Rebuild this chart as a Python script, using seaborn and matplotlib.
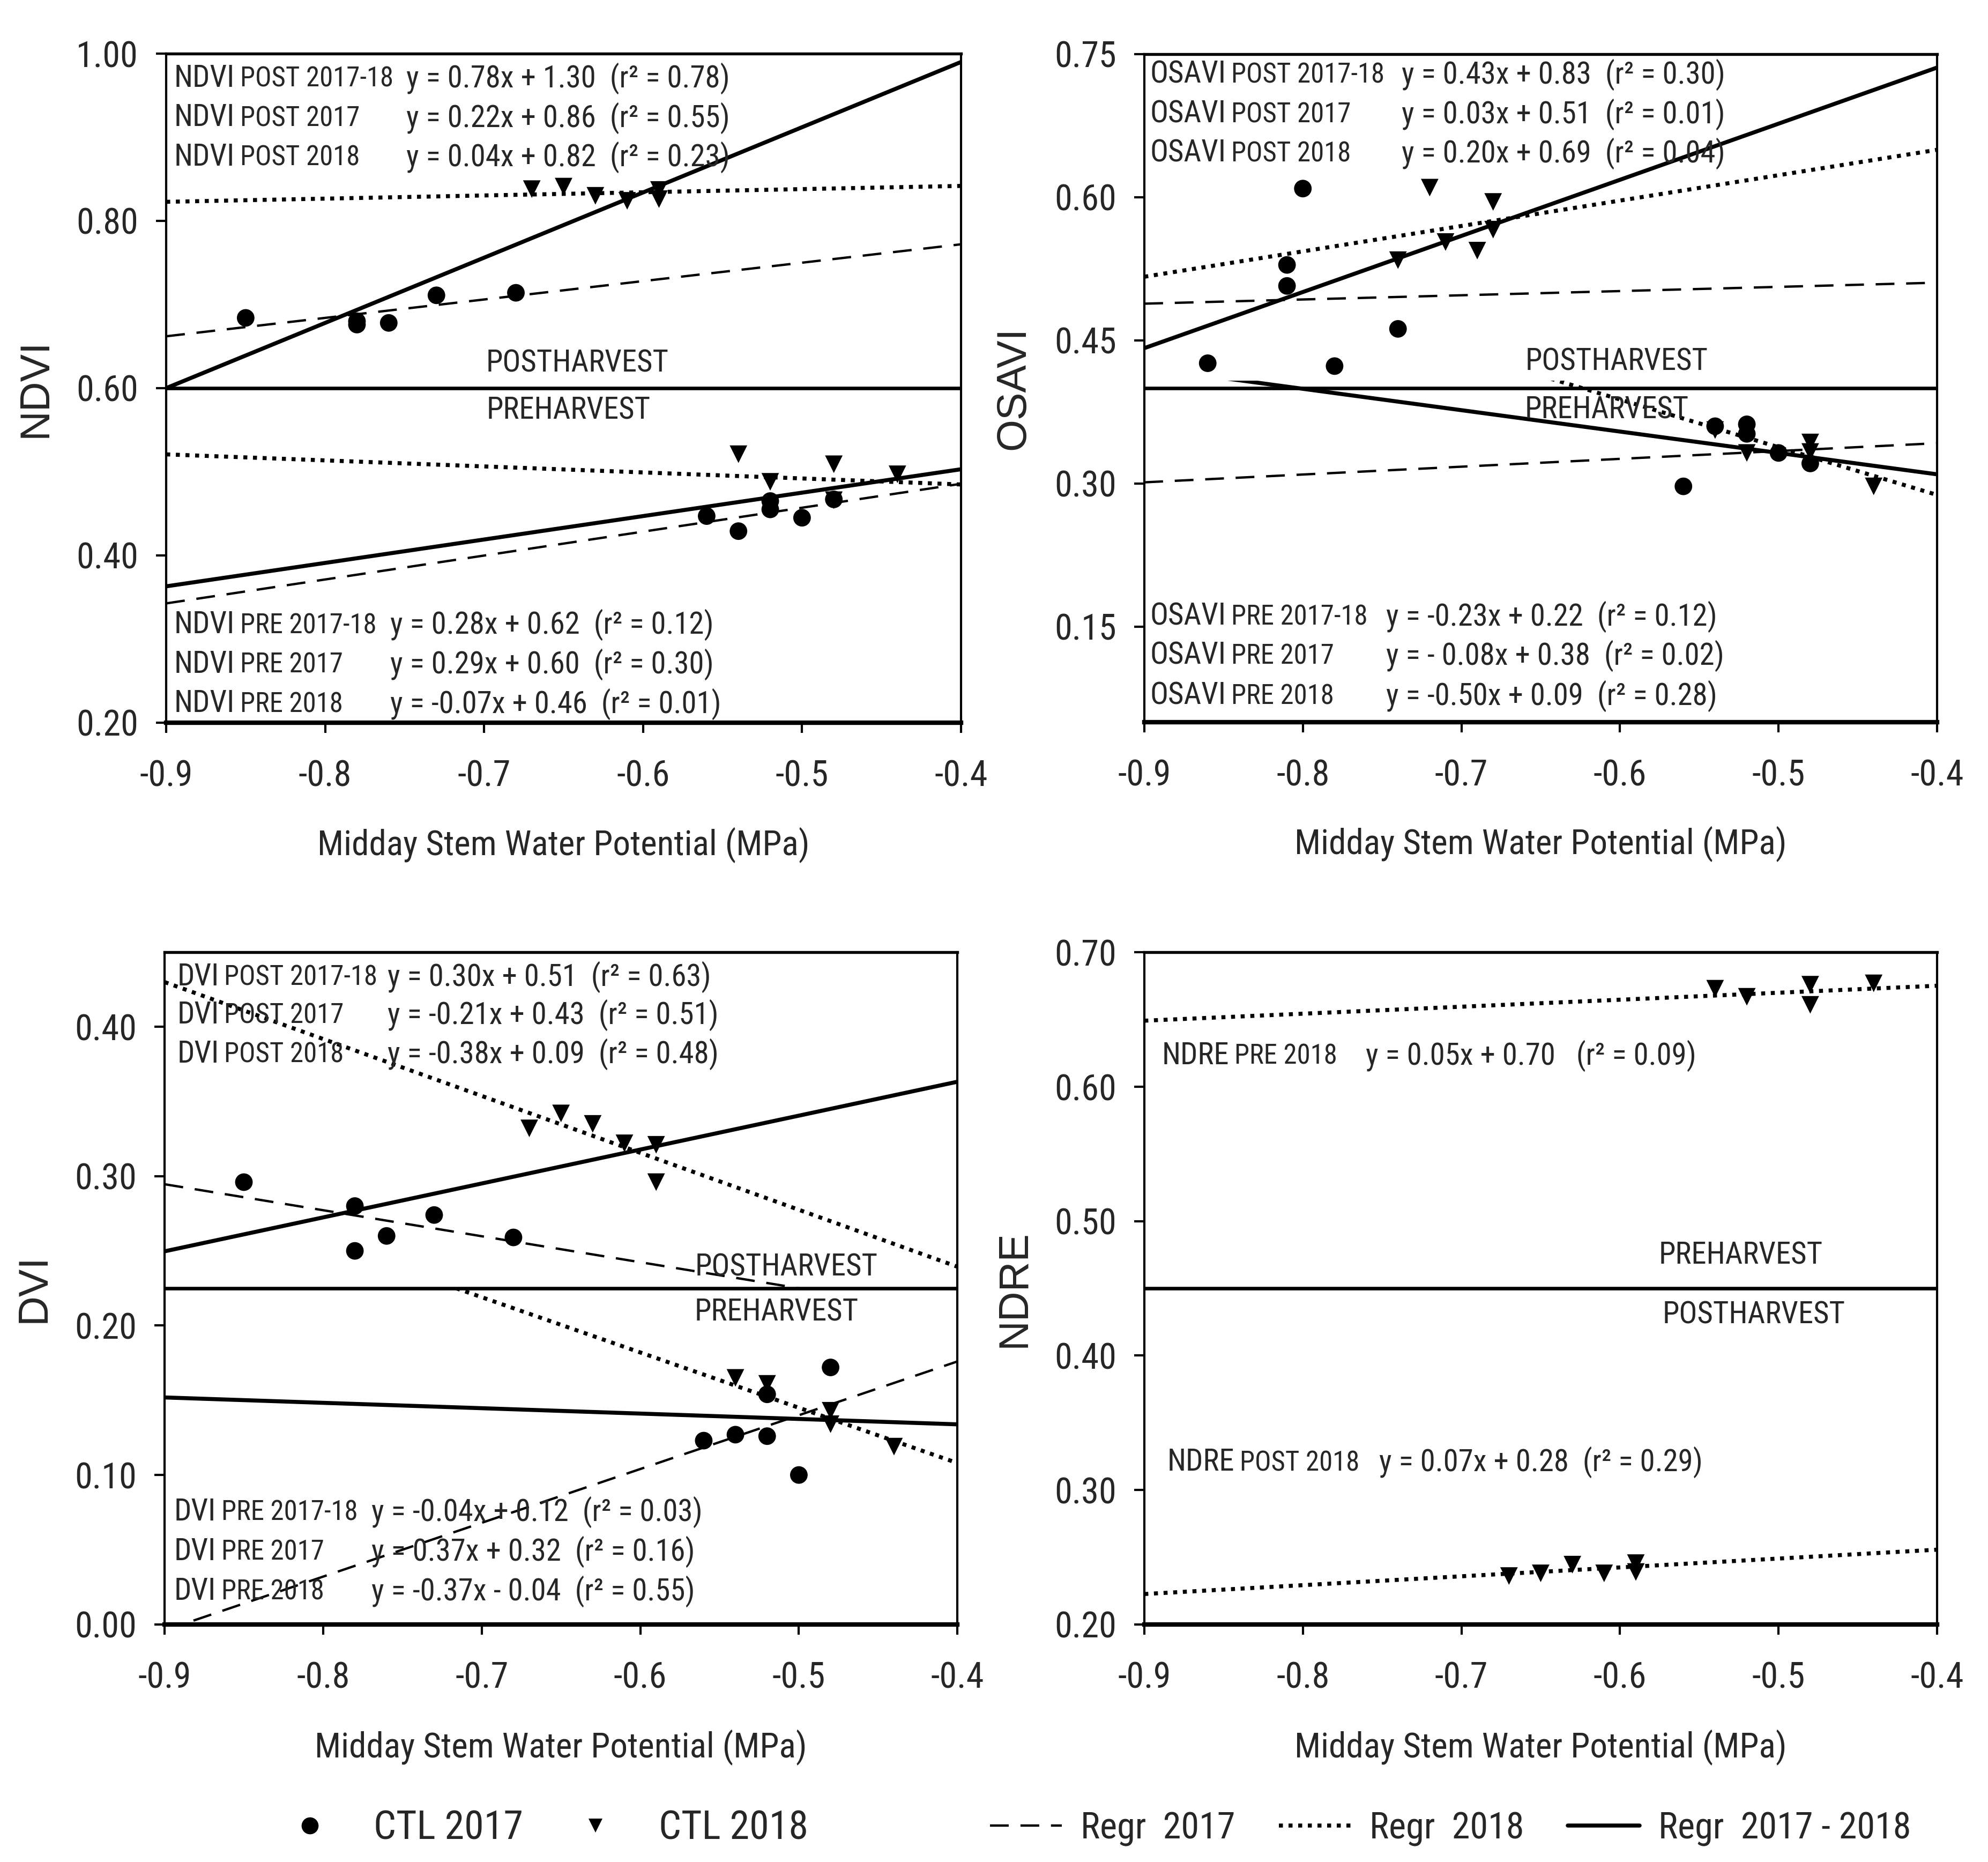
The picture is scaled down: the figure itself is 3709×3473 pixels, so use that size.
import numpy as np
import matplotlib
matplotlib.use('Agg')
import matplotlib.pyplot as plt
from matplotlib import font_manager as fm
from matplotlib.textpath import TextPath
from matplotlib.patches import Rectangle
from matplotlib.lines import Line2D
from matplotlib.ticker import FormatStrFormatter
import seaborn as sns

sns.set_style('ticks')

# the original uses a narrow face; take the narrowest one we have and shrink sizes to keep widths
available = {f.name for f in fm.fontManager.ttflist}
narrow = [c for c in ['Liberation Sans Narrow', 'Arial Narrow', 'Roboto Condensed',
                      'Open Sans Condensed', 'Liberation Sans'] if c in available][0]
plt.rcParams['font.family'] = [narrow, 'DejaVu Sans']
plt.rcParams['axes.unicode_minus'] = False
probe = TextPath((0, 0), 'Midday Stem Water Potential (MPa)', size=16.7,
                 prop=fm.FontProperties(family=narrow))
k = min(1.0, 218.4 / probe.get_extents().width)

# stem water potential of the sampled vines
x_post_2017 = [-0.85, -0.78, -0.78, -0.76, -0.73, -0.68]
x_post_2018 = [-0.67, -0.65, -0.63, -0.61, -0.59, -0.59]
x_pre_2017 = [-0.56, -0.54, -0.52, -0.52, -0.50, -0.48]
x_pre_2018 = [-0.54, -0.52, -0.48, -0.48, -0.44]
x_osavi_post_2017 = [-0.86, -0.81, -0.81, -0.80, -0.78, -0.74]
x_osavi_post_2018 = [-0.74, -0.72, -0.71, -0.69, -0.68, -0.68]

# NDVI
ndvi_post_2017 = [0.684, 0.680, 0.676, 0.678, 0.711, 0.714]
ndvi_post_2018 = [0.838, 0.841, 0.830, 0.824, 0.837, 0.826]
ndvi_pre_2017 = [0.447, 0.429, 0.465, 0.455, 0.445, 0.467]
ndvi_pre_2018 = [0.521, 0.488, 0.509, 0.466, 0.497]
# OSAVI
osavi_post_2017 = [0.426, 0.529, 0.507, 0.609, 0.423, 0.462]
osavi_post_2018 = [0.534, 0.610, 0.553, 0.544, 0.595, 0.566]
osavi_pre_2017 = [0.297, 0.360, 0.362, 0.352, 0.332, 0.321]
osavi_pre_2018 = [0.356, 0.332, 0.343, 0.333, 0.297]
# DVI
dvi_post_2017 = [0.296, 0.280, 0.250, 0.260, 0.274, 0.259]
dvi_post_2018 = [0.332, 0.342, 0.335, 0.322, 0.321, 0.296]
dvi_pre_2017 = [0.123, 0.127, 0.154, 0.126, 0.100, 0.172]
dvi_pre_2018 = [0.165, 0.161, 0.143, 0.134, 0.119]
# NDRE (2018 only)
ndre_pre_2018 = [0.673, 0.667, 0.676, 0.661, 0.677]
ndre_post_2018 = [0.236, 0.238, 0.2445, 0.238, 0.2456, 0.239]

# regression lines as drawn (slope, intercept)
ndvi_fits = {('post', 'all'): (0.78, 1.302), ('post', '2017'): (0.22, 0.860), ('post', '2018'): (0.038, 0.857),
             ('pre', 'all'): (0.28, 0.615), ('pre', '2017'): (0.286, 0.600), ('pre', '2018'): (-0.072, 0.456)}
osavi_fits = {('post', 'all'): (0.588, 0.971), ('post', '2017'): (0.044, 0.528), ('post', '2018'): (0.266, 0.756),
              ('pre', 'all'): (-0.224, 0.220), ('pre', '2017'): (0.082, 0.375), ('pre', '2018'): (-0.50, 0.088)}
dvi_fits = {('post', 'all'): (0.227, 0.454), ('post', '2017'): (-0.174, 0.138), ('post', '2018'): (-0.381, 0.087),
            ('pre', 'all'): (-0.036, 0.1195), ('pre', '2017'): (0.36, 0.32), ('pre', '2018'): (-0.37, -0.04)}
ndre_fits = {('pre', '2018'): (0.052, 0.696), ('post', '2018'): (0.066, 0.282)}

ndvi_eqs_post = [('NDVI', 'POST 2017-18', 'y = 0.78x + 1.30  (r\u00b2 = 0.78)'),
                 ('NDVI', 'POST 2017', 'y = 0.22x + 0.86  (r\u00b2 = 0.55)'),
                 ('NDVI', 'POST 2018', 'y = 0.04x + 0.82  (r\u00b2 = 0.23)')]
ndvi_eqs_pre = [('NDVI', 'PRE 2017-18', 'y = 0.28x + 0.62  (r\u00b2 = 0.12)'),
                ('NDVI', 'PRE 2017', 'y = 0.29x + 0.60  (r\u00b2 = 0.30)'),
                ('NDVI', 'PRE 2018', 'y = -0.07x + 0.46  (r\u00b2 = 0.01)')]
osavi_eqs_post = [('OSAVI', 'POST 2017-18', 'y = 0.43x + 0.83  (r\u00b2 = 0.30)'),
                  ('OSAVI', 'POST 2017', 'y = 0.03x + 0.51  (r\u00b2 = 0.01)'),
                  ('OSAVI', 'POST 2018', 'y = 0.20x + 0.69  (r\u00b2 = 0.04)')]
osavi_eqs_pre = [('OSAVI', 'PRE 2017-18', 'y = -0.23x + 0.22  (r\u00b2 = 0.12)'),
                 ('OSAVI', 'PRE 2017', 'y = - 0.08x + 0.38  (r\u00b2 = 0.02)'),
                 ('OSAVI', 'PRE 2018', 'y = -0.50x + 0.09  (r\u00b2 = 0.28)')]
dvi_eqs_post = [('DVI', 'POST 2017-18', 'y = 0.30x + 0.51  (r\u00b2 = 0.63)'),
                ('DVI', 'POST 2017', 'y = -0.21x + 0.43  (r\u00b2 = 0.51)'),
                ('DVI', 'POST 2018', 'y = -0.38x + 0.09  (r\u00b2 = 0.48)')]
dvi_eqs_pre = [('DVI', 'PRE 2017-18', 'y = -0.04x + 0.12  (r\u00b2 = 0.03)'),
               ('DVI', 'PRE 2017', 'y = 0.37x + 0.32  (r\u00b2 = 0.16)'),
               ('DVI', 'PRE 2018', 'y = -0.37x - 0.04  (r\u00b2 = 0.55)')]
ndre_eqs_pre = [('NDRE', 'PRE 2018', 'y = 0.05x + 0.70   (r\u00b2 = 0.09)')]
ndre_eqs_post = [('NDRE', 'POST 2018', 'y = 0.07x + 0.28  (r\u00b2 = 0.29)')]

line_style = {'2017': dict(ls=(0, (8, 5)), lw=1.05),
              '2018': dict(ls=(0, (1, 1.4)), lw=1.8),
              'all': dict(ls='-', lw=1.8)}

XMIN, XMAX = -0.9, -0.4
FS_TICK, FS_XLAB, FS_EQ, FS_TAG = 17 * k, 16.7 * k, 14.5 * k, 13 * k


def add_points(ax, x, y, marker):
    sns.scatterplot(x=x, y=y, marker=marker, s=62, color='black', edgecolor='none',
                    linewidth=0, ax=ax, zorder=4, legend=False)


def add_fits(ax, fits, ymin, ymax, div, post_on_top=True, pad=0.0):
    for (region, kind), (slope, icpt) in fits.items():
        upper = (region == 'post') == post_on_top
        lo, hi = (div - pad, ymax) if upper else (ymin, div + pad)
        xs = np.array([XMIN, XMAX])
        ln, = ax.plot(xs, slope * xs + icpt, color='black', solid_capstyle='butt', zorder=3,
                      **line_style[kind])
        ln.set_clip_path(Rectangle((XMIN, lo), XMAX - XMIN, hi - lo, transform=ax.transData))


def eq_rows(ax, rows, x0, xe, ys):
    for (name, tag, eq), y in zip(rows, ys):
        t = ax.text(x0, y, name, transform=ax.transAxes, fontsize=FS_EQ, va='center')
        ax.annotate(tag, xy=(1, 0), xycoords=t, xytext=(2.5 * k, 0.3 * k), textcoords='offset points',
                    fontsize=FS_TAG, va='bottom')
        ax.text(xe, y, eq, transform=ax.transAxes, fontsize=FS_EQ, va='center')


def region_label(ax, x, y, s):
    ax.text(x, y, s, transform=ax.transAxes, fontsize=FS_EQ, ha='center', va='center')


def style_axes(ax, ylim, yticks, ylabel, div):
    ax.set_xlim(XMIN, XMAX)
    ax.set_ylim(*ylim)
    ax.set_xticks(np.round(np.arange(XMIN, XMAX + 0.01, 0.1), 1))
    ax.set_yticks(yticks)
    ax.xaxis.set_major_formatter(FormatStrFormatter('%.1f'))
    ax.yaxis.set_major_formatter(FormatStrFormatter('%.2f'))
    ax.tick_params(axis='both', direction='out', length=4.5, width=1, labelsize=FS_TICK, color='black')
    ax.tick_params(axis='x', pad=12)
    ax.tick_params(axis='y', pad=8)
    for side, w in (('top', 1.3), ('bottom', 2.0), ('left', 1.0), ('right', 1.0)):
        ax.spines[side].set_visible(True)
        ax.spines[side].set_linewidth(w)
        ax.spines[side].set_color('black')
    ax.axhline(div, color='black', lw=1.6, zorder=2)
    ax.set_xlabel('Midday Stem Water Potential (MPa)', fontsize=FS_XLAB)
    ax.xaxis.set_label_coords(0.5, -0.156)
    ax.set_ylabel(ylabel, fontsize=18.5, family='Liberation Sans')
    ax.yaxis.set_label_coords(-0.14, 0.5)


fig = plt.figure(figsize=(3709 / 300, 3473 / 300), dpi=300)
ax1 = fig.add_axes([0.0836, 0.6119, 0.3998, 0.3593])
ax2 = fig.add_axes([0.5756, 0.6122, 0.3988, 0.3588])
ax3 = fig.add_axes([0.0828, 0.1276, 0.3988, 0.3611])
ax4 = fig.add_axes([0.5756, 0.1276, 0.3988, 0.3609])

# NDVI
style_axes(ax1, (0.2, 1.0), [0.2, 0.4, 0.6, 0.8, 1.0], 'NDVI', 0.6)
add_fits(ax1, ndvi_fits, 0.2, 1.0, 0.6)
add_points(ax1, x_post_2017, ndvi_post_2017, 'o')
add_points(ax1, x_post_2018, ndvi_post_2018, 'v')
add_points(ax1, x_pre_2017, ndvi_pre_2017, 'o')
add_points(ax1, x_pre_2018, ndvi_pre_2018, 'v')
eq_rows(ax1, ndvi_eqs_post, 0.010, 0.302, [0.963, 0.904, 0.845])
eq_rows(ax1, ndvi_eqs_pre, 0.010, 0.282, [0.146, 0.087, 0.028])
region_label(ax1, 0.517, 0.537, 'POSTHARVEST')
region_label(ax1, 0.506, 0.466, 'PREHARVEST')

# OSAVI
style_axes(ax2, (0.05, 0.75), [0.15, 0.30, 0.45, 0.60, 0.75], 'OSAVI', 0.40)
add_fits(ax2, osavi_fits, 0.05, 0.75, 0.40, pad=0.008)
add_points(ax2, x_osavi_post_2017, osavi_post_2017, 'o')
add_points(ax2, x_osavi_post_2018, osavi_post_2018, 'v')
add_points(ax2, x_pre_2017, osavi_pre_2017, 'o')
add_points(ax2, x_pre_2018, osavi_pre_2018, 'v')
eq_rows(ax2, osavi_eqs_post, 0.007, 0.3245, [0.969, 0.910, 0.851])
eq_rows(ax2, osavi_eqs_pre, 0.007, 0.305, [0.158, 0.099, 0.039])
region_label(ax2, 0.596, 0.539, 'POSTHARVEST')
region_label(ax2, 0.583, 0.467, 'PREHARVEST')

# DVI
style_axes(ax3, (0.0, 0.45), [0.0, 0.1, 0.2, 0.3, 0.4], 'DVI', 0.225)
add_fits(ax3, dvi_fits, 0.0, 0.45, 0.225)
add_points(ax3, x_post_2017, dvi_post_2017, 'o')
add_points(ax3, x_post_2018, dvi_post_2018, 'v')
add_points(ax3, x_pre_2017, dvi_pre_2017, 'o')
add_points(ax3, x_pre_2018, dvi_pre_2018, 'v')
eq_rows(ax3, dvi_eqs_post, 0.0156, 0.281, [0.963, 0.906, 0.848])
eq_rows(ax3, dvi_eqs_pre, 0.012, 0.261, [0.167, 0.108, 0.049])
region_label(ax3, 0.784, 0.531, 'POSTHARVEST')
region_label(ax3, 0.772, 0.464, 'PREHARVEST')

# NDRE (preharvest on top here)
style_axes(ax4, (0.2, 0.7), [0.2, 0.3, 0.4, 0.5, 0.6, 0.7], 'NDRE', 0.45)
add_fits(ax4, ndre_fits, 0.2, 0.7, 0.45, post_on_top=False)
add_points(ax4, x_pre_2018, ndre_pre_2018, 'v')
add_points(ax4, x_post_2018, ndre_post_2018, 'v')
eq_rows(ax4, ndre_eqs_pre, 0.022, 0.279, [0.846])
eq_rows(ax4, ndre_eqs_post, 0.029, 0.296, [0.241])
region_label(ax4, 0.752, 0.549, 'PREHARVEST')
region_label(ax4, 0.769, 0.460, 'POSTHARVEST')

# legends (spacings given in points, converted to font-size units)
fs_a, fs_b = 19 * k, 17.5 * k
marker_handles = [Line2D([], [], marker='o', ls='none', color='black', mec='none', ms=7.6),
                  Line2D([], [], marker='v', ls='none', color='black', mec='none', ms=6.4)]
fig.legend(marker_handles, ['CTL 2017', 'CTL 2018'], loc='center left', bbox_to_anchor=(0.141, 0.018),
           ncol=2, frameon=False, fontsize=fs_a, handlelength=26.6 / fs_a, handletextpad=15.2 / fs_a,
           columnspacing=19 / fs_a, borderpad=0, borderaxespad=0)
line_handles = [Line2D([], [], color='black', **line_style[kk]) for kk in ('2017', '2018', 'all')]
fig.legend(line_handles, ['Regr  2017', 'Regr  2018', 'Regr  2017 - 2018'], loc='center left',
           bbox_to_anchor=(0.498, 0.018), ncol=3, frameon=False, fontsize=fs_b,
           handlelength=32.2 / fs_b, handletextpad=8.4 / fs_b, columnspacing=19.5 / fs_b,
           borderpad=0, borderaxespad=0)

fig.savefig('out.png', dpi=300)
